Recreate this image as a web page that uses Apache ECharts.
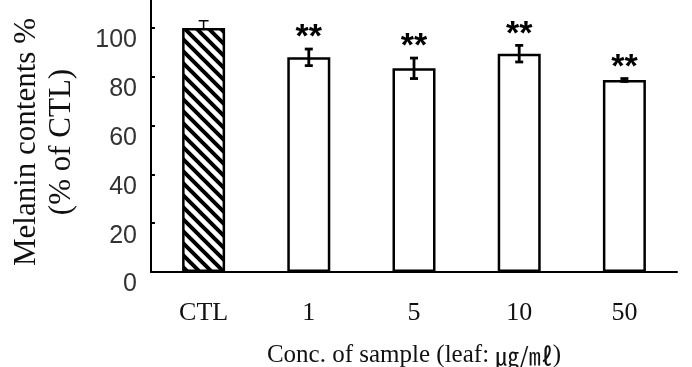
<!DOCTYPE html>
<html>
<head>
<meta charset="utf-8">
<script src="https://cdn.jsdelivr.net/npm/echarts@6/dist/echarts.min.js"></script>
<style>
  html, body { margin: 0; padding: 0; background: #fff; }
  #main { width: 692px; height: 367px; }
</style>
</head>
<body>
<div id="main"></div>
<script>
// data
const categories = ['CTL', '1', '5', '10', '50'];
const melanin = [100, 88, 83.5, 89.5, 78.7];
const errUp = [3, 3.4, 4.2, 3.4, 0.6];
const errDown = [0, 3.4, 4.2, 3.4, 0.6];
const signif = ['', '**', '**', '**', '**'];
const yTicks = [0, 20, 40, 60, 80, 100];

// hatch pattern for the control bar
const hatch = document.createElement('canvas');
hatch.width = 12;
hatch.height = 12;
const hc = hatch.getContext('2d');
hc.fillStyle = '#fff';
hc.fillRect(0, 0, 12, 12);
hc.strokeStyle = '#000';
hc.lineWidth = 4;
hc.beginPath();
hc.moveTo(-3, -3); hc.lineTo(15, 15);
hc.moveTo(-15, -3); hc.lineTo(3, 15);
hc.moveTo(9, -3); hc.lineTo(27, 15);
hc.stroke();

const myChart = echarts.init(document.getElementById('main'));

const option = {
  animation: false,
  grid: {
    left: 151, top: 0, width: 526, height: 272,
    containLabel: false,
    outerBoundsMode: 'none'
  },
  xAxis: {
    type: 'category',
    data: categories,
    axisLine: { lineStyle: { color: '#000', width: 2 } },
    axisTick: { inside: true, length: 4, lineStyle: { color: '#000', width: 2 } },
    axisLabel: {
      margin: 28,
      fontFamily: 'Liberation Serif',
      fontSize: 26,
      color: '#111'
    },
    name: 'Conc. of sample (leaf: {u|㎍/㎖})',
    nameLocation: 'middle',
    nameGap: 71,
    nameTextStyle: {
      fontFamily: 'Liberation Serif',
      fontSize: 25,
      color: '#111',
      rich: {
        u: { fontFamily: 'Noto Sans CJK KR', fontSize: 24, color: '#111' }
      }
    }
  },
  yAxis: {
    type: 'value',
    min: 0,
    max: 111.5,
    interval: 20,
    splitLine: { show: false },
    axisLine: { show: true, lineStyle: { color: '#000', width: 2 } },
    axisTick: {
      show: true, inside: true, length: 4,
      customValues: yTicks,
      lineStyle: { color: '#000', width: 2 }
    },
    axisLabel: {
      customValues: yTicks,
      margin: 14,
      verticalAlign: 'top',
      fontFamily: 'Liberation Sans',
      fontSize: 25,
      color: '#333'
    },
    name: 'Melanin contents %\n(% of CTL)',
    nameLocation: 'middle',
    nameRotate: 90,
    nameGap: 72,
    nameTextStyle: {
      fontFamily: 'Liberation Serif',
      fontSize: 31,
      lineHeight: 35,
      padding: [0, 12, 0, 0],
      color: '#111'
    }
  },
  series: [
    {
      type: 'bar',
      barWidth: 43,
      data: melanin.map((v, i) => ({
        value: v,
        itemStyle: i === 0
          ? { color: { image: hatch, repeat: 'repeat' } }
          : { color: '#fff' }
      })),
      itemStyle: { borderColor: '#000', borderWidth: 2.5 }
    },
    {
      type: 'custom',
      z: 5,
      data: melanin.map((v, i) => [i, v, errUp[i], errDown[i]]),
      renderItem: (params, api) => {
        const i = api.value(0);
        const v = api.value(1);
        const top = api.coord([i, v + api.value(2)]);
        const bot = api.coord([i, v - api.value(3)]);
        const x = top[0];
        const w = i === 0 ? 5 : 4;
        const lw = i === 0 ? 1.5 : 2.8;
        const st = { stroke: '#000', lineWidth: lw };
        const children = [
          { type: 'line', shape: { x1: x, y1: top[1], x2: x, y2: bot[1] }, style: st },
          { type: 'line', shape: { x1: x - w, y1: top[1], x2: x + w, y2: top[1] }, style: st }
        ];
        if (api.value(3) > 0) {
          children.push({ type: 'line', shape: { x1: x - w, y1: bot[1], x2: x + w, y2: bot[1] }, style: st });
        }
        if (signif[i]) {
          children.push({
            type: 'text',
            style: {
              text: signif[i],
              x: x,
              y: top[1] + 6,
              align: 'center',
              verticalAlign: 'bottom',
              font: 'bold 34px "Liberation Sans"',
              fill: '#000'
            }
          });
        }
        return { type: 'group', children: children };
      }
    }
  ]
};

option && myChart.setOption(option);
</script>
</body>
</html>
